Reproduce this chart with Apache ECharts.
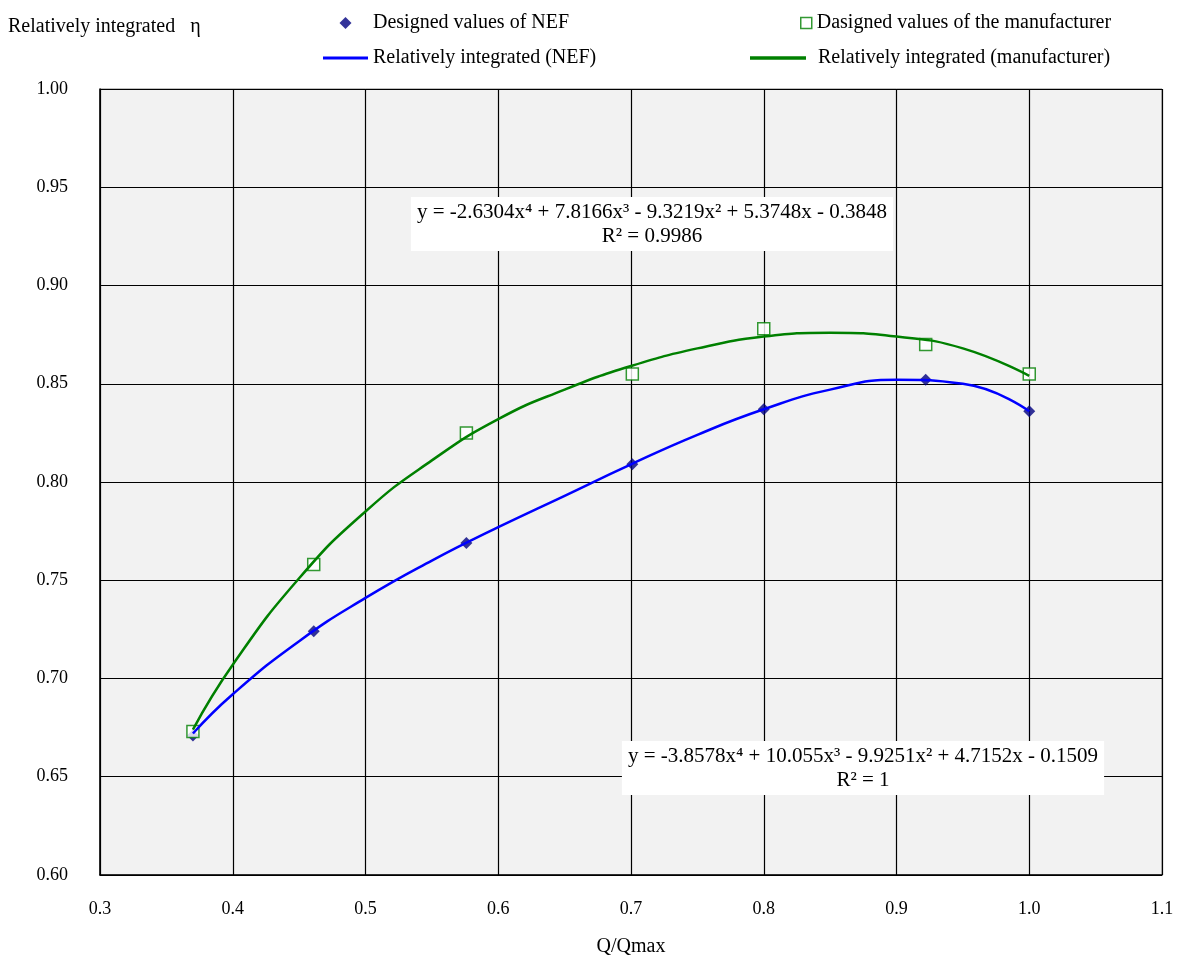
<!DOCTYPE html>
<html>
<head>
<meta charset="utf-8">
<script src="https://cdn.jsdelivr.net/npm/echarts@6/dist/echarts.min.js"></script>
<style>
  html, body { margin: 0; padding: 0; background: #fff; }
  #main { width: 1183px; height: 958px; }
</style>
</head>
<body>
<div id="main"></div>
<script>
// Relatively integrated efficiency vs Q/Qmax

var dom = document.getElementById('main');
var myChart = echarts.init(dom);

var FONT = 'Liberation Serif';

// designed points
var pointX = [0.37, 0.461, 0.576, 0.701, 0.8, 0.922, 1.0];
var nefValues = [0.671, 0.724, 0.769, 0.809, 0.837, 0.852, 0.836];
var mfrValues = [0.673, 0.758, 0.825, 0.855, 0.878, 0.870, 0.855];

// trend curves
var curveX = [0.37, 0.40, 0.45, 0.50, 0.55, 0.60, 0.65, 0.70, 0.75, 0.80, 0.85, 0.90, 0.95, 1.00];
var nefCurve = [0.672, 0.692, 0.719, 0.741, 0.760, 0.777, 0.793, 0.809, 0.824, 0.837, 0.847, 0.852, 0.850, 0.836];
var mfrCurve = [0.674, 0.707, 0.751, 0.785, 0.811, 0.832, 0.847, 0.859, 0.868, 0.874, 0.876, 0.874, 0.868, 0.854];

var seriesNames = [
  'Designed values of NEF',
  'Dasigned values of the manufacturer',
  'Relatively integrated (NEF)',
  'Relatively integrated (manufacturer)'
];

var eqTop = 'y = -2.6304x\u2074 + 7.8166x\u00b3 - 9.3219x\u00b2 + 5.3748x - 0.3848\nR\u00b2 = 0.9986';
var eqBottom = 'y = -3.8578x\u2074 + 10.055x\u00b3 - 9.9251x\u00b2 + 4.7152x - 0.1509\nR\u00b2 = 1';

var DIAMOND = 'path://M5,0L10,5L5,10L0,5Z';
var SQUARE = 'path://M0,0L10,0L10,10L0,10Z';
var BAR = 'path://M0,0L45,0L45,3L0,3Z';

function pairs(xs, ys) {
  return xs.map(function (x, i) { return [x, ys[i]]; });
}

var legendText = { fontFamily: FONT, fontSize: 20, color: '#000' };

var option = {
  backgroundColor: '#ffffff',
  textStyle: { fontFamily: FONT, color: '#000' },
  grid: {
    left: 100, right: 21, top: 89, bottom: 83,
    outerBoundsMode: 'none',
    containLabel: false,
    show: true,
    backgroundColor: '#f2f2f2',
    borderColor: '#808080',
    borderWidth: 1
  },
  legend: [
    {
      data: [
        { name: seriesNames[0], icon: DIAMOND, itemStyle: { color: '#000080' } },
        { name: seriesNames[2], icon: BAR, itemStyle: { color: '#0000ff' } }
      ],
      orient: 'vertical',
      left: 323, top: 13, padding: 0,
      itemWidth: 45, itemHeight: 12, itemGap: 15,
      symbolKeepAspect: true,
      textStyle: legendText
    },
    {
      data: [
        { name: seriesNames[1], icon: SQUARE, itemStyle: { color: '#ffffff', borderColor: '#008000', borderWidth: 1.5 } }
      ],
      left: 800, top: 13, padding: 0,
      itemWidth: 11, itemHeight: 11,
      symbolKeepAspect: true,
      textStyle: legendText
    },
    {
      data: [
        { name: seriesNames[3], icon: BAR, itemStyle: { color: '#008000' } }
      ],
      left: 750, top: 48, padding: 0,
      itemWidth: 56, itemHeight: 10,
      symbolKeepAspect: true,
      textStyle: Object.assign({ padding: [0, 0, 0, 7] }, legendText)
    }
  ],
  xAxis: {
    type: 'value',
    min: 0.3, max: 1.1, interval: 0.1,
    name: 'Q/Qmax',
    nameLocation: 'middle',
    nameGap: 62,
    nameTextStyle: { fontFamily: FONT, fontSize: 20, color: '#000' },
    axisLine: { show: true, onZero: false, lineStyle: { color: '#000', width: 1.5 } },
    axisTick: { show: false },
    axisLabel: {
      margin: 25, fontFamily: FONT, fontSize: 18, color: '#000',
      formatter: function (v) { return v.toFixed(1); }
    },
    splitLine: { show: true, lineStyle: { color: '#000', width: 1.2 } }
  },
  yAxis: {
    type: 'value',
    min: 0.6, max: 1.0, interval: 0.05,
    axisLine: { show: true, lineStyle: { color: '#000', width: 1.5 } },
    axisTick: { show: false },
    axisLabel: {
      margin: 32, fontFamily: FONT, fontSize: 18, color: '#000',
      formatter: function (v) { return v.toFixed(2); }
    },
    splitLine: { show: true, lineStyle: { color: '#000', width: 1.2 } }
  },
  graphic: [
    {
      type: 'text', left: 8, top: 17,
      style: { text: 'Relatively integrated   \u03b7', font: '20px "Liberation Serif"', fill: '#000' }
    },
    {
      type: 'text', x: 652, y: 197, z: 10,
      style: {
        text: eqTop, font: '21px "Liberation Serif"', fill: '#000',
        align: 'center', verticalAlign: 'top', lineHeight: 24,
        backgroundColor: '#fff', padding: [3, 6, 3, 6]
      }
    },
    {
      type: 'text', x: 863, y: 741, z: 10,
      style: {
        text: eqBottom, font: '21px "Liberation Serif"', fill: '#000',
        align: 'center', verticalAlign: 'top', lineHeight: 24,
        backgroundColor: '#fff', padding: [3, 6, 3, 6]
      }
    }
  ],
  series: [
    {
      name: seriesNames[0],
      type: 'scatter',
      symbol: 'diamond',
      symbolSize: 12,
      itemStyle: { color: '#000080' },
      data: pairs(pointX, nefValues),
      z: 2
    },
    {
      name: seriesNames[1],
      type: 'scatter',
      symbol: 'rect',
      symbolSize: 12,
      itemStyle: { color: '#ffffff', borderColor: '#008000', borderWidth: 1.5 },
      data: pairs(pointX, mfrValues),
      z: 2
    },
    {
      name: seriesNames[2],
      type: 'line',
      smooth: true,
      showSymbol: false,
      symbol: 'none',
      lineStyle: { color: '#0000ff', width: 2.5 },
      itemStyle: { color: '#0000ff' },
      data: pairs(curveX, nefCurve),
      z: 3
    },
    {
      name: seriesNames[3],
      type: 'line',
      smooth: true,
      showSymbol: false,
      symbol: 'none',
      lineStyle: { color: '#008000', width: 2.5 },
      itemStyle: { color: '#008000' },
      data: pairs(curveX, mfrCurve),
      z: 3
    }
  ]
};

if (option && typeof option === 'object') {
  myChart.setOption(option);
}
</script>
</body>
</html>
